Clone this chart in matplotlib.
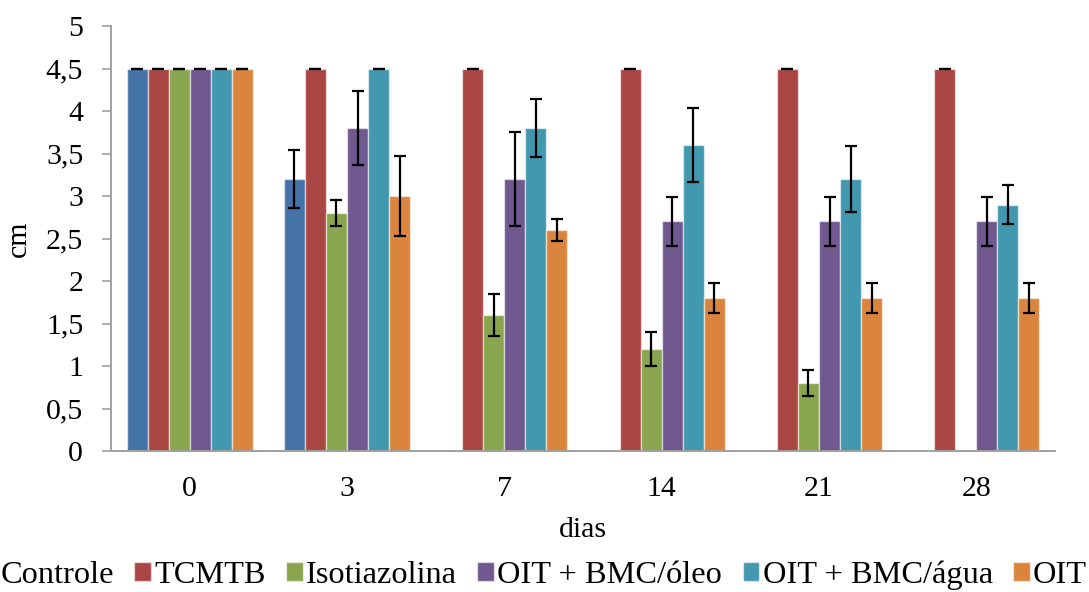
import matplotlib
matplotlib.use("Agg")
import matplotlib.pyplot as plt
import numpy as np

plt.rcParams['font.family'] = ['Liberation Serif', 'DejaVu Serif']

days = ["0", "3", "7", "14", "21", "28"]
series_names = ["Controle", "TCMTB", "Isotiazolina", "OIT + BMC/óleo", "OIT + BMC/água", "OIT"]

controle = [4.5, 3.2, 0.0, 0.0, 0.0, 0.0]
tcmtb = [4.5, 4.5, 4.5, 4.5, 4.5, 4.5]
isotiazolina = [4.5, 2.8, 1.6, 1.2, 0.8, 0.0]
oit_bmc_oleo = [4.5, 3.8, 3.2, 2.7, 2.7, 2.7]
oit_bmc_agua = [4.5, 4.5, 3.8, 3.6, 3.2, 2.9]
oit = [4.5, 3.0, 2.6, 1.8, 1.8, 1.8]

controle_err = [0.0, 0.34, 0.0, 0.0, 0.0, 0.0]
tcmtb_err = [0.0, 0.0, 0.0, 0.0, 0.0, 0.0]
isotiazolina_err = [0.0, 0.15, 0.25, 0.2, 0.155, 0.0]
oit_bmc_oleo_err = [0.0, 0.43, 0.55, 0.29, 0.29, 0.29]
oit_bmc_agua_err = [0.0, 0.0, 0.34, 0.43, 0.39, 0.23]
oit_err = [0.0, 0.47, 0.13, 0.18, 0.18, 0.18]

ytick_values = [0, 0.5, 1, 1.5, 2, 2.5, 3, 3.5, 4, 4.5, 5]
ytick_labels = ["0", "0,5", "1", "1,5", "2", "2,5", "3", "3,5", "4", "4,5", "5"]

colors = ["#4572A7", "#AA4643", "#89A54E", "#71588F", "#4198AF", "#DB843D"]

values = [controle, tcmtb, isotiazolina, oit_bmc_oleo, oit_bmc_agua, oit]
errors = [controle_err, tcmtb_err, isotiazolina_err, oit_bmc_oleo_err, oit_bmc_agua_err, oit_err]

FS = 21.5
LFS = 23.3
fig = plt.figure(figsize=(10.89, 5.92), dpi=100)
ax = fig.add_axes([111/1089, 1 - 451/592, 944/1089, 425/592])

x = np.arange(len(days))
w = 0.1335
for i, (name, vals, errs, c) in enumerate(zip(series_names, values, errors, colors)):
    pos = x + (i - 2.5) * w
    ax.bar(pos, vals, width=w, color=c, edgecolor=(1, 1, 1, 0.55), linewidth=1.0,
           label=name, zorder=2)
    vals_a = np.array(vals, dtype=float)
    errs_a = np.array(errs, dtype=float)
    mask = vals_a > 0
    ax.errorbar(pos[mask], vals_a[mask], yerr=errs_a[mask], fmt='none', ecolor='black',
                elinewidth=1.6, capsize=4.4, capthick=1.6, zorder=3)
    zmask = ~mask
    if zmask.any():
        ax.bar(pos[zmask], [0.012] * zmask.sum(), width=w * 0.9, color='#B0B0B0',
               linewidth=0, zorder=4)

ax.set_xlim(-0.5, 5.5)
ax.set_ylim(0, 5)
ax.set_yticks(ytick_values)
ax.set_yticklabels(ytick_labels)
ax.set_xticks(x)
ax.set_xticklabels(days)

for s in ['top', 'right']:
    ax.spines[s].set_visible(False)
for s in ['left', 'bottom']:
    ax.spines[s].set_color('#A0A0A0')
    ax.spines[s].set_linewidth(1.4)
ax.spines['bottom'].set_zorder(5)

ax.tick_params(axis='y', direction='out', length=6.5, width=1.2, color='#A0A0A0',
               pad=13.5, labelsize=FS)
ax.tick_params(axis='x', length=0, pad=18, labelsize=FS)

ax.set_ylabel("cm", fontsize=FS)
ax.yaxis.set_label_coords(-0.084, 0.5)
ax.set_xlabel("dias", fontsize=FS)
ax.xaxis.set_label_coords(0.5, -0.155)

fig.legend(loc='center right', bbox_to_anchor=(1087/1089, 17/592), ncol=6,
           frameon=False, fontsize=LFS, handlelength=0.52, handleheight=0.52,
           handletextpad=0.1, columnspacing=0.625, borderpad=0, borderaxespad=0)

fig.savefig("out.png", dpi=100)
